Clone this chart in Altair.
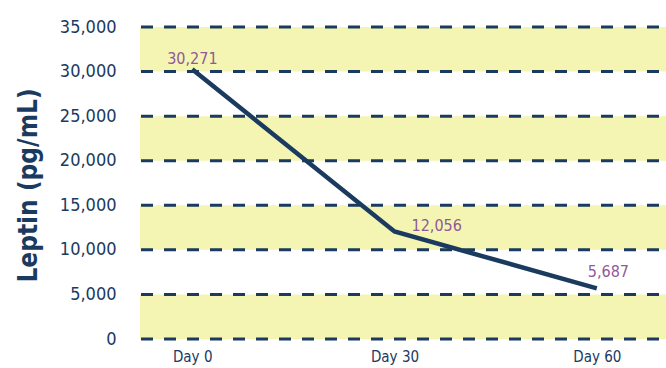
import altair as alt
import pandas as pd

days = ["Day 0", "Day 30", "Day 60"]
leptin = [30271, 12056, 5687]
labels = ["30,271", "12,056", "5,687"]
band_start = [0, 10000, 20000, 30000]
band_end = [5000, 15000, 25000, 35000]
grid_values = [0, 5000, 10000, 15000, 20000, 25000, 30000, 35000]

NAVY = "#1a3a5f"
PURPLE = "#8f5a98"
YELLOW = "#f5f5b3"
FONT = "DejaVu Sans Condensed, Liberation Sans Narrow, sans-serif"

df = pd.DataFrame({"day": days, "leptin": leptin, "label": labels})
bands = pd.DataFrame({"y0": band_start, "y1": band_end})
grid = pd.DataFrame({"v": grid_values})

xscale = alt.Scale(type="point", domain=days, padding=0.3, align=0.43)
yscale = alt.Scale(domain=[0, 35000], nice=False)

yaxis = alt.Axis(title="Leptin (pg/mL)", values=grid_values, format=",d",
                 domain=False, ticks=False, grid=False,
                 labelFont=FONT, labelFontSize=18, labelColor=NAVY,
                 labelPadding=24,
                 titleFont=FONT, titleFontSize=26, titleFontWeight="bold",
                 titleColor=NAVY, titleX=-104, titleY=158,
                 titleBaseline="alphabetic", titleAngle=-90)
xaxis = alt.Axis(title=None, domain=False, ticks=False, grid=False, labelAngle=0,
                 labelFont=FONT, labelFontSize=15, labelColor=NAVY,
                 labelPadding=10)

band_layer = alt.Chart(bands).mark_rect(color=YELLOW, strokeWidth=0).encode(
    y=alt.Y("y0:Q", scale=yscale, axis=yaxis),
    y2="y1:Q",
    x=alt.value(0), x2=alt.value(526),
)

grid_layer = alt.Chart(grid).mark_rule(color=NAVY, strokeWidth=3, strokeDash=[12, 11]).encode(
    y=alt.Y("v:Q", scale=yscale, axis=yaxis),
    x=alt.value(1), x2=alt.value(526),
)

line_layer = alt.Chart(df).mark_line(color=NAVY, strokeWidth=4.5).encode(
    x=alt.X("day:N", scale=xscale, sort=days, axis=xaxis),
    y=alt.Y("leptin:Q", scale=yscale, axis=yaxis),
)

offsets = {"Day 0": (-25, -2), "Day 30": (17, 2), "Day 60": (-9, -8)}
text_layers = []
for d in days:
    dx, dy = offsets[d]
    text_layers.append(
        alt.Chart(df).transform_filter(alt.datum.day == d).mark_text(
            align="left", baseline="bottom", dx=dx, dy=dy,
            font=FONT, fontSize=16, color=PURPLE,
        ).encode(
            x=alt.X("day:N", scale=xscale, sort=days, axis=xaxis),
            y=alt.Y("leptin:Q", scale=yscale, axis=yaxis),
            text="label:N",
        )
    )

chart = alt.layer(band_layer, grid_layer, line_layer, *text_layers).properties(
    width=526, height=312,
    background="white",
    autosize=alt.AutoSizeParams(type="none"),
    padding={"left": 140, "top": 27, "right": 0, "bottom": 29},
).configure_view(
    strokeWidth=0, stroke="transparent"
).configure_axis(
    grid=False, domain=False, ticks=False
)

chart.save("out.html", embed_options={"renderer": "svg", "actions": False})
